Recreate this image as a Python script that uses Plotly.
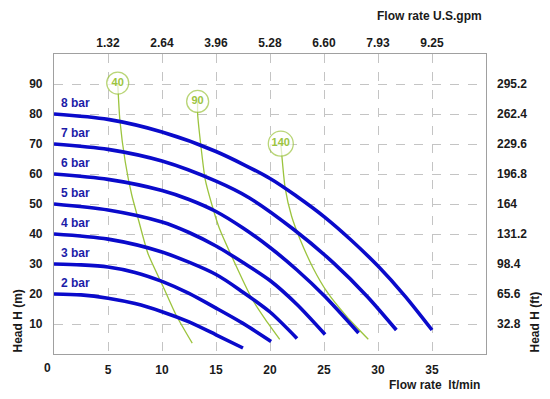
import plotly.graph_objects as go

# ---- data (flow in lt/min, head in m) ----
q_2bar = [0, 2.5, 5, 7.5, 10, 12.5, 15, 17.5]
h_2bar = [20, 19.7, 18.6, 16.8, 14.1, 10.7, 6.4, 2.0]

q_3bar = [0, 2.5, 5, 7.5, 10, 12.5, 15, 17.5, 20.1]
h_3bar = [30, 29.7, 29.0, 27.2, 24.2, 20.2, 15.3, 10.2, 4.2]

q_4bar = [0, 5, 10, 15, 17.5, 20, 22.5]
h_4bar = [40, 38.3, 34.0, 26.5, 20.6, 14.0, 5.2]

q_5bar = [0, 5, 10, 12.5, 15, 17.5, 20, 22.5, 25.1]
h_5bar = [50, 48.0, 44.0, 40.5, 36.0, 30.5, 24.5, 16.5, 6.5]

q_6bar = [0, 5, 10, 12.5, 15, 17.5, 20, 22.5, 25, 28.2]
h_6bar = [60, 58.2, 54.5, 51.5, 47.5, 42.0, 35.5, 28.0, 19.5, 7.0]

q_7bar = [0, 5, 10, 15, 18.1, 22.2, 25.9, 29.0, 31.7]
h_7bar = [70, 68.2, 64.3, 57.6, 52.0, 41.5, 30.3, 19.2, 8.0]

q_8bar = [0, 5, 10, 15, 20, 22.5, 25, 27.5, 30, 32.5, 35.0]
h_8bar = [80, 78.2, 74.0, 67.5, 58.5, 52.5, 45.8, 38.0, 29.3, 19.3, 8.0]

bar_labels = ["2 bar", "3 bar", "4 bar", "5 bar", "6 bar", "7 bar", "8 bar"]
bar_start_heads = [20, 30, 40, 50, 60, 70, 80]

# air-consumption lines (green), label text and label position
air_labels = ["40", "90", "140"]
air_label_q = [5.9, 13.3, 21.0]
air_label_h = [90.3, 84.2, 70.1]

q_air40 = [5.9, 6.1, 6.6, 7.2, 7.8, 8.7, 10.1, 11.3, 12.8]
h_air40 = [90.3, 78, 64, 53, 45, 33.5, 22.5, 13, 3.6]

q_air90 = [13.3, 13.3, 13.6, 14.0, 14.6, 15.3, 16.6, 18.3, 19.5, 20.9]
h_air90 = [84.2, 80, 69.4, 58.2, 50, 42, 31.4, 18.6, 11.9, 4.9]

q_air140 = [21.0, 21.1, 21.4, 22.0, 22.8, 24.0, 25.3, 27.1, 29.1]
h_air140 = [70.1, 66, 55.4, 45.9, 38.1, 28.6, 20.6, 12.5, 4.9]

# axis ticks
x_ticks = [5, 10, 15, 20, 25, 30, 35]
gpm_ticktext = ["1.32", "2.64", "3.96", "5.28", "6.60", "7.93", "9.25"]
y_ticks = [10, 20, 30, 40, 50, 60, 70, 80, 90]
ft_ticktext = ["32.8", "65.6", "98.4", "131.2", "164", "196.8", "229.6", "262.4", "295.2"]

BLUE = "#0a0acb"
LABEL_BLUE = "#1c1ca8"
GREEN = "#9cc43e"
FONT = "Liberation Sans, Arial, sans-serif"
TXT = "#1a1a1a"

fig = go.Figure()

# green air lines (under circles)
for qs, hs in [(q_air40, h_air40), (q_air90, h_air90), (q_air140, h_air140)]:
    fig.add_trace(go.Scatter(x=qs, y=hs, mode="lines",
                             line=dict(color=GREEN, width=1.3, shape="spline", smoothing=0.6),
                             hoverinfo="skip", showlegend=False))

# blue pressure curves
for qs, hs in [(q_2bar, h_2bar), (q_3bar, h_3bar), (q_4bar, h_4bar), (q_5bar, h_5bar),
               (q_6bar, h_6bar), (q_7bar, h_7bar), (q_8bar, h_8bar)]:
    fig.add_trace(go.Scatter(x=qs, y=hs, mode="lines",
                             line=dict(color=BLUE, width=3.6, shape="spline", smoothing=0.8),
                             showlegend=False))

# circle labels
fig.add_trace(go.Scatter(
    x=air_label_q, y=air_label_h, mode="markers+text", text=["<b>%s</b>" % t for t in air_labels],
    textposition="middle center",
    textfont=dict(family=FONT, size=11, color=GREEN),
    marker=dict(size=[22, 22, 25], color="white", line=dict(color=GREEN, width=1.3)),
    showlegend=False, cliponaxis=False))

# invisible trace on secondary axes so they render
fig.add_trace(go.Scatter(x=[0], y=[0], xaxis="x2", yaxis="y2", mode="markers",
                         marker=dict(opacity=0), showlegend=False, hoverinfo="skip"))

# bar labels
for lab, h in zip(bar_labels, bar_start_heads):
    fig.add_annotation(x=0.5, y=h + 3.6, text="<b>" + lab + "</b>", showarrow=False,
                       xanchor="left", yanchor="middle",
                       font=dict(family=FONT, size=12, color=LABEL_BLUE))

tickfont = dict(family=FONT, size=12, color=TXT, weight="bold")

# page body has an 8px default margin, so the figure is 8px smaller and margins shifted
fig.update_layout(
    width=542, height=391,
    margin=dict(l=46, r=64, t=46, b=45, autoexpand=False),
    paper_bgcolor="white", plot_bgcolor="white",
    xaxis=dict(range=[0, 40], tickvals=x_ticks, showgrid=True, gridcolor="#c4c4c4",
               griddash="dash", gridwidth=1, mirror=True, showline=True, linecolor="#a0a0a0",
               linewidth=1.2, zeroline=False, ticks="", tickfont=tickfont,
               ticklabelstandoff=4, automargin=False),
    yaxis=dict(range=[0, 100], tickvals=y_ticks, showgrid=True, gridcolor="#c4c4c4",
               griddash="dash", gridwidth=1, mirror=True, showline=True, linecolor="#a0a0a0",
               linewidth=1.2, zeroline=False, ticks="", tickfont=tickfont,
               ticklabelstandoff=8, automargin=False),
    xaxis2=dict(range=[0, 40], tickvals=x_ticks, ticktext=gpm_ticktext, overlaying="x", side="top",
                showgrid=False, showline=False, zeroline=False, ticks="",
                tickfont=tickfont, ticklabelstandoff=4, automargin=False),
    yaxis2=dict(range=[0, 100], tickvals=y_ticks, ticktext=ft_ticktext, overlaying="y", side="right",
                showgrid=False, showline=False, zeroline=False, ticks="",
                tickfont=tickfont, ticklabelstandoff=10, automargin=False),
)

# "0" at the origin corner
fig.add_annotation(x=0, y=0, xref="paper", yref="paper", text="<b>0</b>", showarrow=False,
                   xanchor="center", yanchor="top", xshift=-7, yshift=-5,
                   font=dict(family=FONT, size=12, color=TXT))

# axis titles
fig.add_annotation(x=1, y=1, xref="paper", yref="paper", text="<b>Flow rate U.S.gpm</b>",
                   showarrow=False, xanchor="right", yanchor="middle", xshift=-2, yshift=38,
                   font=dict(family=FONT, size=12, color=TXT))
fig.add_annotation(x=1, y=0, xref="paper", yref="paper", text="<b>Flow rate  lt/min</b>",
                   showarrow=False, xanchor="right", yanchor="middle", xshift=-4, yshift=-31,
                   font=dict(family=FONT, size=12, color=TXT))
fig.add_annotation(x=0, y=0, xref="paper", yref="paper", text="<b>Head H (m)</b>", textangle=-90,
                   showarrow=False, xanchor="center", yanchor="bottom", xshift=-37, yshift=-1,
                   font=dict(family=FONT, size=12, color=TXT))
fig.add_annotation(x=1, y=0, xref="paper", yref="paper", text="<b>Head H (ft)</b>", textangle=-90,
                   showarrow=False, xanchor="center", yanchor="bottom", xshift=48, yshift=-1,
                   font=dict(family=FONT, size=12, color=TXT))

fig.write_html("out.html")
